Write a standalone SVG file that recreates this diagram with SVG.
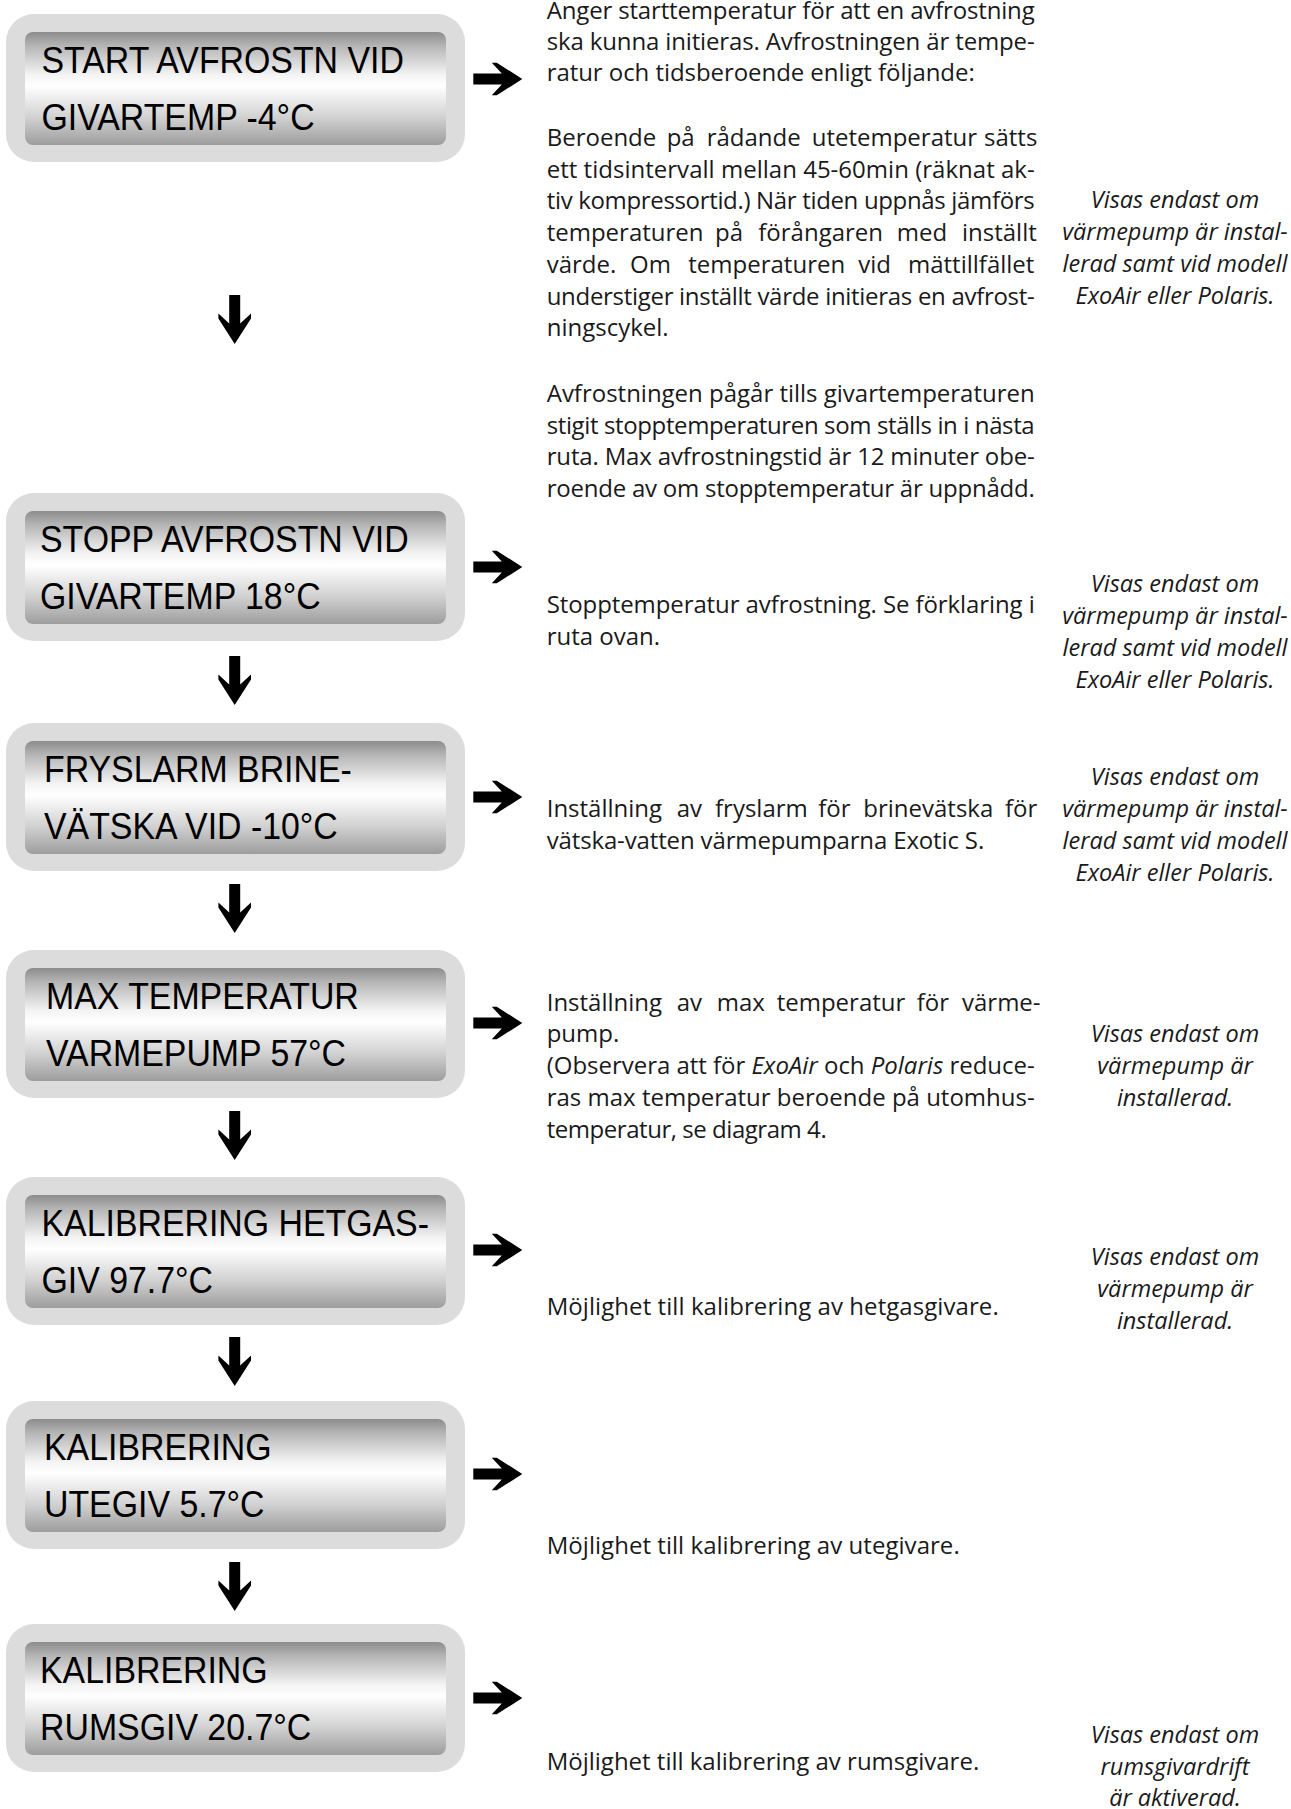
<svg xmlns="http://www.w3.org/2000/svg" width="1291" height="1809" viewBox="0 0 1291 1809">
<defs>
  <linearGradient id="lcd" x1="0" y1="0" x2="0" y2="1">
    <stop offset="0" stop-color="#8c8c8c"/>
    <stop offset="0.12" stop-color="#b4b4b4"/>
    <stop offset="0.38" stop-color="#f4f4f4"/>
    <stop offset="0.48" stop-color="#ffffff"/>
    <stop offset="0.75" stop-color="#d2d2d2"/>
    <stop offset="1" stop-color="#9d9d9d"/>
  </linearGradient>
  <path id="arr" d="M0,-5.5 H28.5 L18.5,-16.3 H23.5 L49,0 L23.5,16.3 H18.5 L28.5,5.5 H0 Z"/>
</defs>
<style>
  .outer{fill:#dcdcdc}
  .inner{fill:url(#lcd)}
  .lcd{font-family:"Liberation Sans",Arial,sans-serif;font-size:37px;fill:#000}
  .body{font-family:"Open Sans","Noto Sans",sans-serif;font-size:24px;fill:#1a1a1a}
  .note{font-family:"Open Sans","Noto Sans",sans-serif;font-size:23.5px;font-style:italic;fill:#1a1a1a;text-anchor:middle}
  .arrow{fill:#000}
</style>
<rect width="1291" height="1809" fill="#fff"/>

<g id="box-start" transform="translate(0,14)">
  <rect class="outer" x="6" y="0" width="459" height="148" rx="28"/>
  <rect class="inner" x="25" y="18" width="421" height="113" rx="8"/>
  <text class="lcd" transform="translate(41.5,59) scale(0.915,1)">START AVFROSTN VID</text>
  <text class="lcd" transform="translate(41.5,116) scale(0.915,1)">GIVARTEMP -4°C</text>
</g>
<g id="box-stopp" transform="translate(0,493)">
  <rect class="outer" x="6" y="0" width="459" height="148" rx="28"/>
  <rect class="inner" x="25" y="18" width="421" height="113" rx="8"/>
  <text class="lcd" transform="translate(40,59) scale(0.915,1)">STOPP AVFROSTN VID</text>
  <text class="lcd" transform="translate(40,116) scale(0.915,1)">GIVARTEMP 18°C</text>
</g>
<g id="box-fryslarm" transform="translate(0,723)">
  <rect class="outer" x="6" y="0" width="459" height="148" rx="28"/>
  <rect class="inner" x="25" y="18" width="421" height="113" rx="8"/>
  <text class="lcd" transform="translate(44,59) scale(0.915,1)">FRYSLARM BRINE-</text>
  <text class="lcd" transform="translate(44,116) scale(0.915,1)">VÄTSKA VID -10°C</text>
</g>
<g id="box-maxtemp" transform="translate(0,950)">
  <rect class="outer" x="6" y="0" width="459" height="148" rx="28"/>
  <rect class="inner" x="25" y="18" width="421" height="113" rx="8"/>
  <text class="lcd" transform="translate(46,59) scale(0.915,1)">MAX TEMPERATUR</text>
  <text class="lcd" transform="translate(46,116) scale(0.915,1)">VARMEPUMP 57°C</text>
</g>
<g id="box-hetgas" transform="translate(0,1177)">
  <rect class="outer" x="6" y="0" width="459" height="148" rx="28"/>
  <rect class="inner" x="25" y="18" width="421" height="113" rx="8"/>
  <text class="lcd" transform="translate(41.5,59) scale(0.915,1)">KALIBRERING HETGAS-</text>
  <text class="lcd" transform="translate(41.5,116) scale(0.915,1)">GIV 97.7°C</text>
</g>
<g id="box-utegiv" transform="translate(0,1401)">
  <rect class="outer" x="6" y="0" width="459" height="148" rx="28"/>
  <rect class="inner" x="25" y="18" width="421" height="113" rx="8"/>
  <text class="lcd" transform="translate(44,59) scale(0.915,1)">KALIBRERING</text>
  <text class="lcd" transform="translate(44,116) scale(0.915,1)">UTEGIV 5.7°C</text>
</g>
<g id="box-rumsgiv" transform="translate(0,1624)">
  <rect class="outer" x="6" y="0" width="459" height="148" rx="28"/>
  <rect class="inner" x="25" y="18" width="421" height="113" rx="8"/>
  <text class="lcd" transform="translate(40,59) scale(0.915,1)">KALIBRERING</text>
  <text class="lcd" transform="translate(40,116) scale(0.915,1)">RUMSGIV 20.7°C</text>
</g>

<g id="connectors" class="arrow">
  <use href="#arr" transform="translate(473.3,79)"/>
  <use href="#arr" transform="translate(473.3,567)"/>
  <use href="#arr" transform="translate(473.3,797)"/>
  <use href="#arr" transform="translate(473.3,1023)"/>
  <use href="#arr" transform="translate(473.3,1250)"/>
  <use href="#arr" transform="translate(473.3,1474)"/>
  <use href="#arr" transform="translate(473.3,1698)"/>
  <use href="#arr" transform="translate(234.7,295) rotate(90)"/>
  <use href="#arr" transform="translate(234.7,656) rotate(90)"/>
  <use href="#arr" transform="translate(234.7,884) rotate(90)"/>
  <use href="#arr" transform="translate(234.7,1111) rotate(90)"/>
  <use href="#arr" transform="translate(234.7,1337) rotate(90)"/>
  <use href="#arr" transform="translate(234.7,1562) rotate(90)"/>
</g>

<g id="desc-start" class="body">
  <text x="546.7" y="19" textLength="488" lengthAdjust="spacing">Anger starttemperatur för att en avfrostning</text>
  <text x="546.7" y="49.5" textLength="488" lengthAdjust="spacing">ska kunna initieras. Avfrostningen är tempe-</text>
  <text x="546.7" y="80.8" textLength="428" lengthAdjust="spacing">ratur och tidsberoende enligt följande:</text>
  <text y="146"><tspan x="546.7">Beroende</tspan><tspan x="666.7">på</tspan><tspan x="706.7">rådande</tspan><tspan x="811.7">utetemperatur</tspan><tspan x="984">sätts</tspan></text>
  <text x="546.7" y="177.7" textLength="488" lengthAdjust="spacing">ett tidsintervall mellan 45-60min (räknat ak-</text>
  <text x="546.7" y="209.4" textLength="488" lengthAdjust="spacing">tiv kompressortid.) När tiden uppnås jämförs</text>
  <text y="241.1"><tspan x="546.7">temperaturen</tspan><tspan x="715">på</tspan><tspan x="758.3">förångaren</tspan><tspan x="896.7">med</tspan><tspan x="962">inställt</tspan></text>
  <text y="272.8"><tspan x="546.7">värde.</tspan><tspan x="630">Om</tspan><tspan x="688.3">temperaturen</tspan><tspan x="858.3">vid</tspan><tspan x="908">mättillfället</tspan></text>
  <text x="546.7" y="304.5" textLength="488" lengthAdjust="spacing">understiger inställt värde initieras en avfrost-</text>
  <text x="546.7" y="336.2">ningscykel.</text>
  <text x="546.7" y="402" textLength="488" lengthAdjust="spacing">Avfrostningen pågår tills givartemperaturen</text>
  <text x="546.7" y="433.7" textLength="488" lengthAdjust="spacing">stigit stopptemperaturen som ställs in i nästa</text>
  <text x="546.7" y="465.4" textLength="488" lengthAdjust="spacing">ruta. Max avfrostningstid är 12 minuter obe-</text>
  <text x="546.7" y="497" textLength="488" lengthAdjust="spacing">roende av om stopptemperatur är uppnådd.</text>
</g>
<g id="desc-stopp" class="body">
  <text x="546.7" y="612.5" textLength="488" lengthAdjust="spacing">Stopptemperatur avfrostning. Se förklaring i</text>
  <text x="546.7" y="644.5">ruta ovan.</text>
</g>
<g id="desc-fryslarm" class="body">
  <text y="817"><tspan x="546.7">Inställning</tspan><tspan x="676.7">av</tspan><tspan x="715">fryslarm</tspan><tspan x="818.3">för</tspan><tspan x="863.3">brinevätska</tspan><tspan x="1005">för</tspan></text>
  <text x="546.7" y="849" textLength="437.5" lengthAdjust="spacing">vätska-vatten värmepumparna Exotic S.</text>
</g>
<g id="desc-maxtemp" class="body">
  <text y="1010.5"><tspan x="546.7">Inställning</tspan><tspan x="676.7">av</tspan><tspan x="716.7">max</tspan><tspan x="776.7">temperatur</tspan><tspan x="916.7">för</tspan><tspan x="962">värme-</tspan></text>
  <text x="546.7" y="1042.3">pump.</text>
  <text x="546.7" y="1074.1" textLength="488" lengthAdjust="spacing">(Observera att för <tspan font-style="italic">ExoAir</tspan> och <tspan font-style="italic">Polaris</tspan> reduce-</text>
  <text x="546.7" y="1105.9" textLength="488" lengthAdjust="spacing">ras max temperatur beroende på utomhus-</text>
  <text x="546.7" y="1137.7" textLength="280" lengthAdjust="spacing">temperatur, se diagram 4.</text>
</g>
<g id="desc-hetgas" class="body">
  <text x="546.7" y="1315" textLength="452" lengthAdjust="spacing">Möjlighet till kalibrering av hetgasgivare.</text>
</g>
<g id="desc-utegiv" class="body">
  <text x="546.7" y="1553.5" textLength="413" lengthAdjust="spacing">Möjlighet till kalibrering av utegivare.</text>
</g>
<g id="desc-rumsgiv" class="body">
  <text x="546.7" y="1769.5" textLength="432.5" lengthAdjust="spacing">Möjlighet till kalibrering av rumsgivare.</text>
</g>

<g id="note-start" class="note">
  <text x="1175" y="208">Visas endast om</text>
  <text x="1175" y="240">värmepump är instal-</text>
  <text x="1175" y="272">lerad samt vid modell</text>
  <text x="1175" y="304">ExoAir eller Polaris.</text>
</g>
<g id="note-stopp" class="note">
  <text x="1175" y="592">Visas endast om</text>
  <text x="1175" y="624">värmepump är instal-</text>
  <text x="1175" y="656">lerad samt vid modell</text>
  <text x="1175" y="688">ExoAir eller Polaris.</text>
</g>
<g id="note-fryslarm" class="note">
  <text x="1175" y="784.5">Visas endast om</text>
  <text x="1175" y="816.5">värmepump är instal-</text>
  <text x="1175" y="848.5">lerad samt vid modell</text>
  <text x="1175" y="880.5">ExoAir eller Polaris.</text>
</g>
<g id="note-maxtemp" class="note">
  <text x="1175" y="1041.5">Visas endast om</text>
  <text x="1175" y="1073.5">värmepump är</text>
  <text x="1175" y="1105.5">installerad.</text>
</g>
<g id="note-hetgas" class="note">
  <text x="1175" y="1264.5">Visas endast om</text>
  <text x="1175" y="1296.5">värmepump är</text>
  <text x="1175" y="1328.5">installerad.</text>
</g>
<g id="note-rumsgiv" class="note">
  <text x="1175" y="1743">Visas endast om</text>
  <text x="1175" y="1774.5">rumsgivardrift</text>
  <text x="1175" y="1806">är aktiverad.</text>
</g>
</svg>
